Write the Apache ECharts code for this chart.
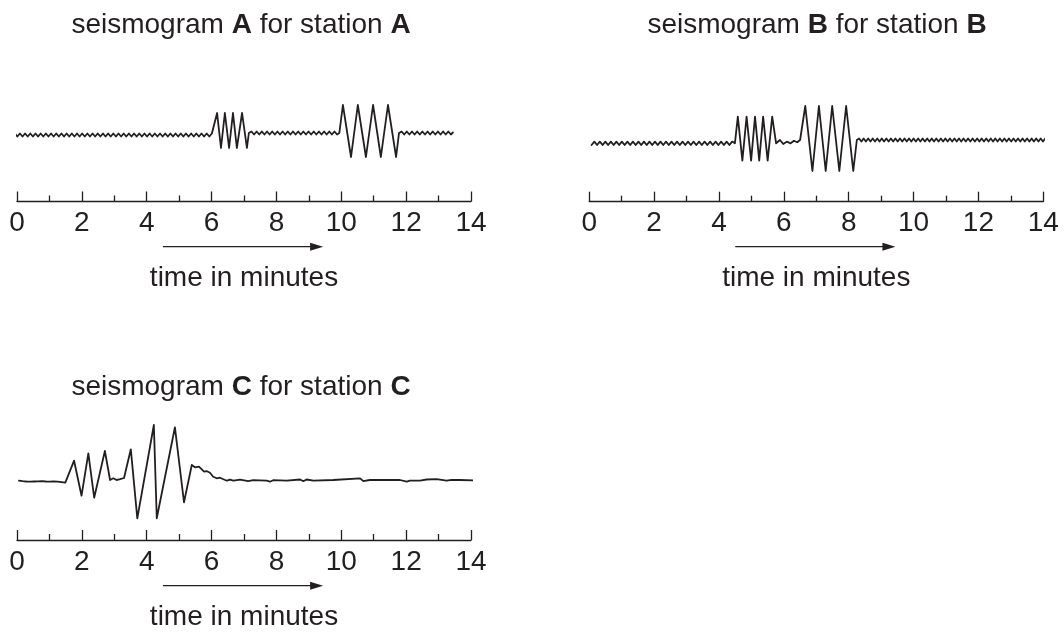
<!DOCTYPE html>
<html>
<head>
<meta charset="utf-8">
<script src="https://cdn.jsdelivr.net/npm/echarts@6/dist/echarts.min.js"></script>
<style>
html,body{margin:0;padding:0;background:#fff;}
#chart{width:1064px;height:633px;}
</style>
</head>
<body>
<div id="chart"></div>
<script>
// ---- data (time in minutes, trace amplitude relative to its baseline) ----
const xTicks = [0, 2, 4, 6, 8, 10, 12, 14];
const titles = ['A', 'B', 'C'];
const axisName = 'time in minutes';
const arrowTimes = [4.5, 9.24];

const traceA = [
[-0.15,-1.5],[-0.07,1.5],[0.01,-1.5],[0.09,1.5],[0.17,-1.5],[0.25,1.5],[0.33,-1.5],[0.41,1.5],[0.49,-1.5],[0.57,1.5],
[0.65,-1.5],[0.73,1.5],[0.81,-1.5],[0.89,1.5],[0.97,-1.5],[1.05,1.5],[1.13,-1.5],[1.21,1.5],[1.29,-1.5],[1.37,1.5],
[1.45,-1.5],[1.53,1.5],[1.61,-1.5],[1.69,1.5],[1.77,-1.5],[1.85,1.5],[1.93,-1.5],[2.01,1.5],[2.09,-1.5],[2.17,1.5],
[2.25,-1.5],[2.33,1.5],[2.41,-1.5],[2.49,1.5],[2.57,-1.5],[2.65,1.5],[2.73,-1.5],[2.81,1.5],[2.89,-1.5],[2.97,1.5],
[3.05,-1.5],[3.13,1.5],[3.21,-1.5],[3.29,1.5],[3.37,-1.5],[3.45,1.5],[3.53,-1.5],[3.61,1.5],[3.69,-1.5],[3.77,1.5],
[3.85,-1.5],[3.93,1.5],[4.01,-1.5],[4.09,1.5],[4.17,-1.5],[4.25,1.5],[4.33,-1.5],[4.41,1.5],[4.49,-1.5],[4.57,1.5],
[4.65,-1.5],[4.73,1.5],[4.81,-1.5],[4.89,1.5],[4.97,-1.5],[5.05,1.5],[5.13,-1.5],[5.21,1.5],[5.29,-1.5],[5.37,1.5],
[5.45,-1.5],[5.53,1.5],[5.61,-1.5],[5.69,1.5],[5.77,-1.5],[5.85,1.5],[5.93,-1.5],[6.01,1.5],
[6.05,0],[6.17,22],[6.29,-13],[6.41,22],[6.54,-13],[6.66,22],[6.78,-13],[6.94,22],[7.09,-13],[7.15,2],
[7.23,3.5],[7.31,0.5],[7.39,3.5],[7.47,0.5],[7.55,3.5],[7.63,0.5],[7.71,3.5],[7.79,0.5],[7.87,3.5],[7.95,0.5],
[8.03,3.5],[8.11,0.5],[8.19,3.5],[8.27,0.5],[8.35,3.5],[8.43,0.5],[8.51,3.5],[8.59,0.5],[8.67,3.5],[8.75,0.5],
[8.83,3.5],[8.91,0.5],[8.99,3.5],[9.07,0.5],[9.15,3.5],[9.23,0.5],[9.31,3.5],[9.39,0.5],[9.47,3.5],[9.55,0.5],
[9.63,3.5],[9.71,0.5],[9.79,3.5],[9.87,0.5],
[9.94,2],[10.05,30],[10.30,-22],[10.51,30],[10.76,-22],[10.98,30],[11.22,-22],[11.44,30],[11.69,-22],[11.78,2],
[11.86,3.5],[11.94,0.5],[12.02,3.5],[12.10,0.5],[12.18,3.5],[12.26,0.5],[12.34,3.5],[12.42,0.5],[12.50,3.5],[12.58,0.5],
[12.66,3.5],[12.74,0.5],[12.82,3.5],[12.90,0.5],[12.98,3.5],[13.06,0.5],[13.14,3.5],[13.22,0.5],[13.30,3.5],[13.38,0.5],
[13.44,2.5]
];

const traceB = [
[0.07,-1.7],[0.155,1.7],[0.24,-1.7],[0.325,1.7],[0.41,-1.7],[0.495,1.7],[0.58,-1.7],[0.665,1.7],[0.75,-1.7],[0.835,1.7],
[0.92,-1.7],[1.005,1.7],[1.09,-1.7],[1.175,1.7],[1.26,-1.7],[1.345,1.7],[1.43,-1.7],[1.515,1.7],[1.6,-1.7],[1.685,1.7],
[1.77,-1.7],[1.855,1.7],[1.94,-1.7],[2.025,1.7],[2.11,-1.7],[2.195,1.7],[2.28,-1.7],[2.365,1.7],[2.45,-1.7],[2.535,1.7],
[2.62,-1.7],[2.705,1.7],[2.79,-1.7],[2.875,1.7],[2.96,-1.7],[3.045,1.7],[3.13,-1.7],[3.215,1.7],[3.3,-1.7],[3.385,1.7],
[3.47,-1.7],[3.555,1.7],[3.64,-1.7],[3.725,1.7],[3.81,-1.7],[3.895,1.7],[3.98,-1.7],[4.065,1.7],[4.15,-1.7],[4.235,1.7],
[4.32,-1.7],[4.405,1.7],[4.49,0],
[4.58,26.6],[4.72,-17.4],[4.85,26.6],[4.99,-17.4],[5.11,26.6],[5.24,-17.4],[5.36,26.6],[5.50,-17.4],[5.64,26.6],[5.76,0],
[5.88,3.3],[5.98,-0.7],[6.09,1.6],[6.21,0],[6.31,2.6],[6.41,1],[6.50,3.3],
[6.66,37.3],[6.88,-27.7],[7.08,37.3],[7.29,-27.7],[7.49,37.3],[7.71,-27.7],[7.92,37.3],[8.14,-27.7],[8.25,3.3],
[8.32,4.8],[8.39,1.8],[8.46,4.8],[8.53,1.8],[8.60,4.8],[8.67,1.8],[8.74,4.8],[8.81,1.8],[8.88,4.8],[8.95,1.8],
[9.02,4.8],[9.09,1.8],[9.16,4.8],[9.23,1.8],[9.30,4.8],[9.37,1.8],[9.44,4.8],[9.51,1.8],[9.58,4.8],[9.65,1.8],
[9.72,4.8],[9.79,1.8],[9.86,4.8],[9.93,1.8],[10.00,4.8],[10.07,1.8],[10.14,4.8],[10.21,1.8],[10.28,4.8],[10.35,1.8],
[10.42,4.8],[10.49,1.8],[10.56,4.8],[10.63,1.8],[10.70,4.8],[10.77,1.8],[10.84,4.8],[10.91,1.8],[10.98,4.8],[11.05,1.8],
[11.12,4.8],[11.19,1.8],[11.26,4.8],[11.33,1.8],[11.40,4.8],[11.47,1.8],[11.54,4.8],[11.61,1.8],[11.68,4.8],[11.75,1.8],
[11.82,4.8],[11.89,1.8],[11.96,4.8],[12.03,1.8],[12.10,4.8],[12.17,1.8],[12.24,4.8],[12.31,1.8],[12.38,4.8],[12.45,1.8],
[12.52,4.8],[12.59,1.8],[12.66,4.8],[12.73,1.8],[12.80,4.8],[12.87,1.8],[12.94,4.8],[13.01,1.8],[13.08,4.8],[13.15,1.8],
[13.22,4.8],[13.29,1.8],[13.36,4.8],[13.43,1.8],[13.50,4.8],[13.57,1.8],[13.64,4.8],[13.71,1.8],[13.78,4.8],[13.85,1.8],
[13.92,4.8],[13.99,1.8],[14.06,4.8],[14.11,3.3]
];

const traceC = [
[0.06,0],[0.12,1.5],[0.17,-0.5],[0.23,1],[0.29,-0.8],[0.35,0.8],[0.41,-1],[0.47,0.5],[0.53,-0.8],[0.59,0.6],
[0.65,-0.7],[0.71,1.2],[0.77,-0.5],[0.83,1.5],[0.89,-0.8],[0.95,0.4],[1.01,-1],[1.07,1],[1.13,-0.7],[1.19,0.3],
[1.25,-1],[1.31,-0.5],[1.37,-1.5],[1.43,-0.8],[1.49,-2],[1.53,-1.5],
[1.76,20],[1.99,-15],[2.20,27.4],[2.38,-17],[2.71,29.7],[2.87,0.7],[2.97,2.4],[3.07,0.7],[3.18,1.5],[3.30,2.7],
[3.51,31.4],[3.71,-37.6],[4.22,55.7],[4.31,-37.6],[4.87,53.4],[5.15,-21.6],[5.39,15.7],[5.49,13.4],[5.61,14],[5.67,12],
[5.77,9],[5.86,9.5],[5.95,8],[6.05,4],[6.16,2.4],[6.26,3],[6.47,0],[6.57,1],[6.67,0],[6.88,1],
[7.13,-0.5],[7.29,0.5],[7.70,0],[7.80,-1],[7.90,0.5],[8.32,0],[8.73,1.2],[8.83,-0.5],[8.93,1.2],[9.14,0],
[9.75,0.7],[10.58,2.4],[10.68,-0.5],[10.88,0.7],[11.81,0.7],[12.02,-1],[12.12,0],[12.43,0],[12.63,1.2],[12.94,1.5],
[13.25,0],[13.40,0.8],[13.66,0.7],[14.12,0.3]
];

// ---- style / layout ----
const INK = '#231f20';
const FONT = 'Liberation Sans, Arial, Helvetica, sans-serif';
const FS = 28;

const panels = [
  { trace: traceA, left: 17, width: 454, top: 95, height: 106.5, ymin: -66.5, ymax: 40, arrowY: -111.7, tx: 241, ty: 25 },
  { trace: traceB, left: 589.3, width: 454, top: 95, height: 106.7, ymin: -58.4, ymax: 48.3, arrowY: -103.4, tx: 817, ty: 25 },
  { trace: traceC, left: 17, width: 454, top: 415, height: 125, ymin: -59.3, ymax: 65.7, arrowY: -105, tx: 241, ty: 387 }
];

const chart = echarts.init(document.getElementById('chart'), null, { renderer: 'canvas' });

const grid = [], xAxis = [], yAxis = [], series = [], graphic = [];
panels.forEach((p, i) => {
  grid.push({ left: p.left, width: p.width, top: p.top, height: p.height, containLabel: false });
  xAxis.push({
    gridIndex: i, type: 'value', min: xTicks[0], max: xTicks[xTicks.length - 1], interval: xTicks[1] - xTicks[0],
    axisLine: { show: true, onZero: false, lineStyle: { color: INK, width: 1.3 } },
    axisTick: { show: true, inside: true, length: 10, lineStyle: { color: INK, width: 1.3 } },
    minorTick: { show: true, splitNumber: 2, length: 6, lineStyle: { color: INK, width: 1.3 } },
    splitLine: { show: false },
    axisLabel: { margin: 8, fontSize: FS, fontFamily: FONT, color: INK, showMinLabel: true, showMaxLabel: true },
    name: axisName, nameLocation: 'middle', nameGap: 63,
    nameTextStyle: { fontSize: FS, fontFamily: FONT, color: INK }
  });
  yAxis.push({ gridIndex: i, type: 'value', min: p.ymin, max: p.ymax, show: false });
  series.push({
    type: 'line', xAxisIndex: i, yAxisIndex: i, data: p.trace, showSymbol: false, clip: false,
    silent: true, lineStyle: { color: INK, width: 1.8, join: 'round', cap: 'round' }
  });
  series.push({
    type: 'line', xAxisIndex: i, yAxisIndex: i, clip: false, silent: true, showSymbol: true,
    data: [
      { value: [arrowTimes[0], p.arrowY], symbol: 'none' },
      { value: [arrowTimes[1], p.arrowY], symbol: 'triangle', symbolSize: [8, 13], symbolRotate: -90 }
    ],
    lineStyle: { color: INK, width: 1.2 }, itemStyle: { color: INK }
  });
  graphic.push({
    type: 'text', x: p.tx, y: p.ty, silent: true,
    style: {
      text: '{n|seismogram }{b|' + titles[i] + '}{n| for station }{b|' + titles[i] + '}',
      align: 'center', verticalAlign: 'middle',
      rich: {
        n: { fontSize: FS, fontFamily: FONT, fill: INK, color: INK },
        b: { fontSize: FS, fontFamily: FONT, fontWeight: 'bold', fill: INK, color: INK }
      }
    }
  });
});

chart.setOption({
  backgroundColor: '#ffffff',
  animation: false,
  grid, xAxis, yAxis, series, graphic
});
</script>
</body>
</html>
